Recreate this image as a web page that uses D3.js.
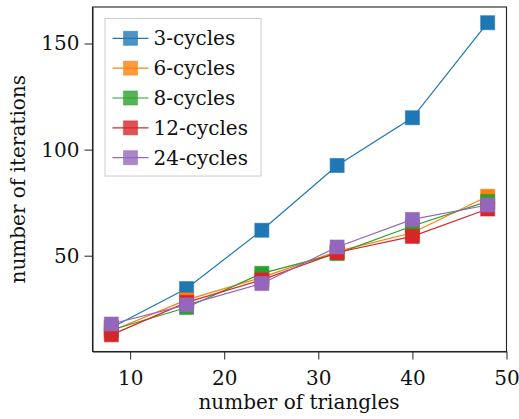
<!DOCTYPE html>
<meta charset="utf-8">
<style>
body { margin: 0; background: #fff; }
svg text { font-family: "DejaVu Serif", serif; fill: #111; }
.axis path, .axis line { stroke: #222; }
</style>
<body>
<script src="https://cdn.jsdelivr.net/npm/d3@7/dist/d3.min.js"></script>
<script>

var triangles = [8, 16, 24, 32, 40, 48];
var cycles3  = [16, 34.5, 62, 92.5, 115, 159.8];
var cycles6  = [14.5, 29.2, 39.8, 52, 60.8, 78];
var cycles8  = [15, 25.6, 41.7, 51, 64, 75.6];
var cycles12 = [12.7, 28, 38.6, 51.5, 59.1, 72];
var cycles24 = [17.8, 26.8, 36.9, 54.1, 67.1, 73.9];
var names = ["3-cycles", "6-cycles", "8-cycles", "12-cycles", "24-cycles"];
var colors = ["#1f77b4", "#ff7f0e", "#2ca02c", "#d62728", "#9467bd"];
var xTicks = [10, 20, 30, 40, 50];
var yTicks = [50, 100, 150];

var series = [cycles3, cycles6, cycles8, cycles12, cycles24];

var width = 519, height = 419,
    mLeft = 92.5, mRight = 506.5, mTop = 7, mBottom = 351.5,
    ms = 14, fs = 20;

var svg = d3.select("body").append("svg")
    .attr("width", width)
    .attr("height", height);

var x = d3.scaleLinear().domain([6, 50]).range([mLeft, mRight]);
var y = d3.scaleLinear().domain([4.85, 167.2]).range([mBottom, mTop]);

var xAxis = svg.append("g")
    .attr("class", "axis")
    .attr("transform", "translate(0," + mBottom + ")")
    .call(d3.axisBottom(x).tickValues(xTicks).tickSize(8).tickPadding(6).tickSizeOuter(0));
xAxis.selectAll("text").attr("dy", "0.95em");

var yAxis = svg.append("g")
    .attr("class", "axis")
    .attr("transform", "translate(" + mLeft + ",0)")
    .call(d3.axisLeft(y).tickValues(yTicks).tickSize(8).tickPadding(5).tickSizeOuter(0));

svg.selectAll(".axis").attr("font-family", null).attr("font-size", fs);
svg.selectAll(".axis text").attr("font-size", fs);

svg.append("rect")
    .attr("x", mLeft)
    .attr("y", mTop)
    .attr("width", mRight - mLeft)
    .attr("height", mBottom - mTop)
    .attr("fill", "none")
    .attr("stroke", "#222")
    .attr("stroke-width", 1.1);

var line = d3.line()
    .x(function(d, i) { return x(triangles[i]); })
    .y(function(d) { return y(d); });

series.forEach(function(s, k) {
  var g = svg.append("g");
  g.append("path")
      .attr("d", line(s))
      .attr("fill", "none")
      .attr("stroke", colors[k])
      .attr("stroke-width", 1.2);
  g.selectAll("rect")
      .data(s)
    .enter().append("rect")
      .attr("x", function(d, i) { return x(triangles[i]) - ms / 2; })
      .attr("y", function(d) { return y(d) - ms / 2; })
      .attr("width", ms)
      .attr("height", ms)
      .attr("fill", colors[k])
      .attr("stroke", colors[k])
      .attr("stroke-opacity", 0.6)
      .attr("stroke-width", 1);
});

// legend
var legend = svg.append("g");
legend.append("rect")
    .attr("x", 105)
    .attr("y", 18.5)
    .attr("width", 156)
    .attr("height", 157.5)
    .attr("fill", "#fff")
    .attr("fill-opacity", 0.8)
    .attr("stroke", "#ccc")
    .attr("stroke-width", 1);

names.forEach(function(n, k) {
  var cy = 38.3 + k * 29.85;
  legend.append("line")
      .attr("x1", 112.5).attr("x2", 148.5)
      .attr("y1", cy).attr("y2", cy)
      .attr("stroke", colors[k])
      .attr("stroke-width", 1.2);
  legend.append("rect")
      .attr("x", 130.5 - ms / 2)
      .attr("y", cy - ms / 2)
      .attr("width", ms)
      .attr("height", ms)
      .attr("fill", colors[k])
      .attr("fill-opacity", 0.8)
      .attr("stroke", colors[k])
      .attr("stroke-opacity", 0.5);
  legend.append("text")
      .attr("x", 153.5)
      .attr("y", cy)
      .attr("dy", "0.35em")
      .attr("font-size", fs)
      .text(n);
});

svg.append("text")
    .attr("x", (mLeft + mRight) / 2 - 0.5)
    .attr("y", 402)
    .attr("dy", "0.35em")
    .attr("text-anchor", "middle")
    .attr("font-size", fs)
    .text("number of triangles");

svg.append("text")
    .attr("transform", "translate(18," + ((mTop + mBottom) / 2) + ") rotate(-90)")
    .attr("dy", "0.35em")
    .attr("text-anchor", "middle")
    .attr("font-size", fs)
    .text("number of iterations");

</script>
